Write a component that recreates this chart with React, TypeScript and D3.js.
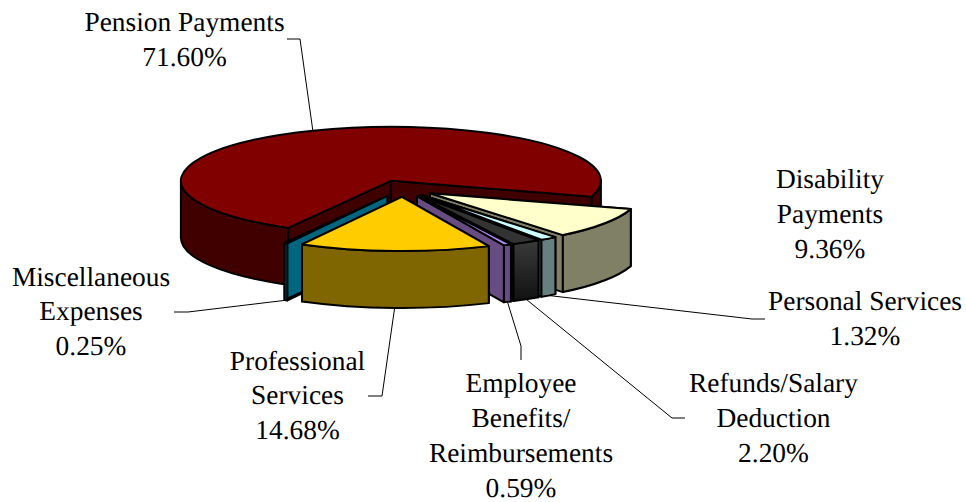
import React from "react";
import * as d3 from "d3";

// slices in clockwise order, starting at the big one
const categories = [
  "Pension Payments",
  "Disability Payments",
  "Personal Services",
  "Refunds/Salary Deduction",
  "Employee Benefits/ Reimbursements",
  "Professional Services",
  "Miscellaneous Expenses",
];
const shares = [71.6, 9.36, 1.32, 2.2, 0.59, 14.68, 0.25];

const topColors = ["#800000", "#FFFFCC", "#CCFFFF", "#333333", "#B088EE", "#FFCC00", "#006699"];
const sideColors = ["#400000", "#808066", "#668080", "#111111", "#664C80", "#806600", "#006680"];
const rimColors = ["#400000", "#808066", "#668080", "url(#darkRim)", "#664C80", "#806600", "#004C66"];

// back to front
const drawOrder = [0, 6, 1, 2, 3, 4, 5];

// label lines, broken as in the picture
const labelLines = [
  ["Pension Payments", "71.60%"],
  ["Disability", "Payments", "9.36%"],
  ["Personal Services", "1.32%"],
  ["Refunds/Salary", "Deduction", "2.20%"],
  ["Employee", "Benefits/", "Reimbursements", "0.59%"],
  ["Professional", "Services", "14.68%"],
  ["Miscellaneous", "Expenses", "0.25%"],
];
const labelCenterX = [184.5, 830, 865, 773.5, 521, 297.5, 91];
const labelFirstBaseline = [31, 188, 310, 392, 392, 369.5, 285.5];
const lineStep = 34.9;

// leader elbows, from the label side to the pie; null = no leader
const leaderElbows: ([number, number][] | null)[] = [
  [[287, 39], [300, 39]],
  null,
  [[765, 319], [752, 319]],
  [[685, 418], [672, 418]],
  [[521, 360], [521, 346]],
  [[368, 396], [382, 396]],
  [[174, 312], [188, 312]],
];

const width = 966;
const height = 502;
const center = { x: 403, y: 188.6 };
const rx = 210;
const ry = 54;
const depth = 57;
const explode = 0.155;
const startDeg = 209.3;

const rad = Math.PI / 180;

const x = d3.scaleLinear().domain([-1, 1]).range([-rx, rx]);
const y = d3.scaleLinear().domain([-1, 1]).range([-ry, ry]);

const pie = d3
  .pie<number>()
  .sort(null)
  .startAngle(startDeg * rad)
  .endAngle((startDeg + 360) * rad);

type P = [number, number];

const App = () => {
  const arcs = pie(shares);

  const sliceOrigin = (i: number): P => {
    const mid = (arcs[i].startAngle + arcs[i].endAngle) / 2;
    return [
      center.x + x(Math.sin(mid) * explode),
      center.y + y(-Math.cos(mid) * explode),
    ];
  };

  const rimPoint = (o: P, a: number): P => [o[0] + x(Math.sin(a)), o[1] + y(-Math.cos(a))];

  const arcTo = (p: P, sweep: number, dir = 1) =>
    `A${rx},${ry} 0 ${Math.abs(sweep) > Math.PI ? 1 : 0} ${dir > 0 ? 1 : 0} ${p[0]},${p[1]}`;

  const topPath = (i: number) => {
    const o = sliceOrigin(i);
    const { startAngle: a0, endAngle: a1 } = arcs[i];
    const p0 = rimPoint(o, a0);
    const p1 = rimPoint(o, a1);
    return `M${o[0]},${o[1]}L${p0[0]},${p0[1]}${arcTo(p1, a1 - a0)}Z`;
  };

  const radialWall = (i: number, a: number) => {
    const o = sliceOrigin(i);
    const p = rimPoint(o, a);
    return `M${o[0]},${o[1]}L${p[0]},${p[1]}L${p[0]},${p[1] + depth}L${o[0]},${o[1] + depth}Z`;
  };

  // only the front half of the rim can be seen
  const rimWalls = (i: number) => {
    const o = sliceOrigin(i);
    const { startAngle: a0, endAngle: a1 } = arcs[i];
    const out: string[] = [];
    for (const k of [0, 1]) {
      const lo = Math.max(a0, (90 + 360 * k) * rad);
      const hi = Math.min(a1, (270 + 360 * k) * rad);
      if (hi <= lo) continue;
      const p0 = rimPoint(o, lo);
      const p1 = rimPoint(o, hi);
      out.push(
        `M${p0[0]},${p0[1]}${arcTo(p1, hi - lo)}L${p1[0]},${p1[1] + depth}` +
          `${arcTo([p0[0], p0[1] + depth], hi - lo, -1)}Z`
      );
    }
    return out;
  };

  const leaderStart = (i: number): P => {
    const mid = (arcs[i].startAngle + arcs[i].endAngle) / 2;
    const p = rimPoint(sliceOrigin(i), mid);
    const front = Math.cos(mid) < 0;
    return [p[0], p[1] + (front ? depth : 0)];
  };

  const line = d3.line();

  return (
    <svg
      width={width}
      height={height}
      style={{ position: "absolute", left: 0, top: 0, background: "#fff" }}
    >
      <defs>
        <linearGradient id="darkRim" x1="0" y1="0" x2="0" y2="1">
          <stop offset="0" stopColor="#3a3a3a" />
          <stop offset="1" stopColor="#111111" />
        </linearGradient>
      </defs>

      {categories.map((c, i) =>
        leaderElbows[i] ? (
          <path
            key={c}
            d={line([...(leaderElbows[i] as P[]), leaderStart(i)]) as string}
            fill="none"
            stroke="#000"
            strokeWidth={1}
          />
        ) : null
      )}

      {drawOrder.map((i) => (
        <g key={categories[i]} stroke="#000" strokeWidth={2} strokeLinejoin="round">
          <path d={radialWall(i, arcs[i].startAngle)} fill={sideColors[i]} />
          <path d={radialWall(i, arcs[i].endAngle)} fill={sideColors[i]} />
          {rimWalls(i).map((d, k) => (
            <path key={k} d={d} fill={rimColors[i]} />
          ))}
          <path d={topPath(i)} fill={topColors[i]} />
        </g>
      ))}

      {labelLines.map((lines, i) => (
        <text
          key={categories[i]}
          textAnchor="middle"
          fontFamily="'Liberation Serif', serif"
          fontSize={27.4}
          fill="#000"
          textRendering="geometricPrecision"
        >
          {lines.map((l, k) => (
            <tspan key={k} x={labelCenterX[i]} y={labelFirstBaseline[i] + k * lineStep}>
              {l}
            </tspan>
          ))}
        </text>
      ))}
    </svg>
  );
};

export default App;
